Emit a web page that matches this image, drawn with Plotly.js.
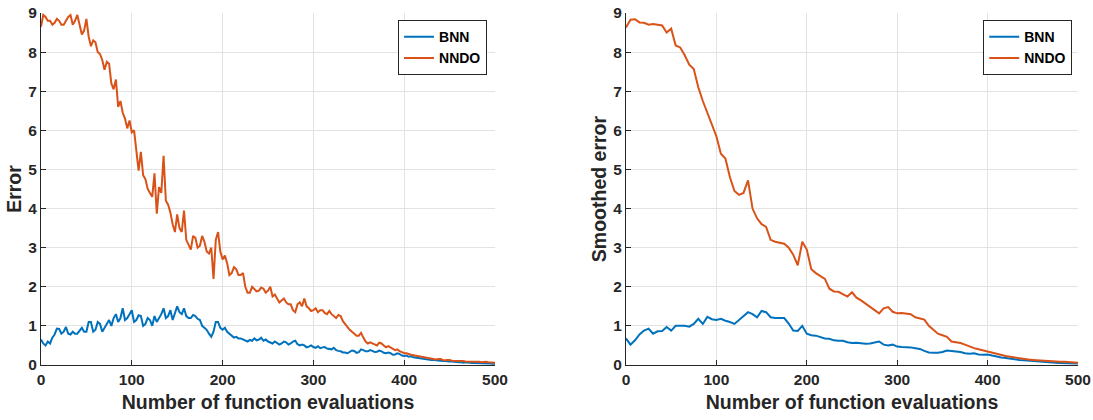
<!DOCTYPE html>
<html>
<head>
<meta charset="utf-8">
<script src="https://cdn.plot.ly/plotly-3.0.1.min.js"></script>
<style>html,body{margin:0;padding:0;background:#fff;}#chart{width:1093px;height:420px;}</style>
</head>
<body>
<div id="chart"></div>
<script>
// Number of function evaluations: raw error sampled every 2.5, smoothed every 5
const evalsRaw = [];
for (let i = 0; i <= 200; i++) evalsRaw.push(i * 2.5);
const evals = [];
for (let i = 0; i <= 500; i += 5) evals.push(i);

// Left panel: raw error
const errorBNN = [
0.65,0.55,0.5,0.6,0.55,0.7,0.78,0.93,0.92,0.8,0.85,0.97,0.8,0.78,0.85,0.8,0.8,0.88,0.95,0.85,
0.85,1.1,1.1,0.85,0.9,1.1,1.05,0.85,0.95,1.05,1.15,1.0,1.2,1.3,1.1,1.2,1.45,1.15,1.2,1.3,
1.4,1.1,1.15,1.27,1.25,1.0,1.05,1.2,1.15,1.0,1.25,1.1,1.2,1.3,1.45,1.2,1.25,1.4,1.15,1.3,
1.5,1.35,1.3,1.45,1.25,1.2,1.2,1.28,1.25,1.18,1.15,1.0,0.95,0.9,0.8,0.72,0.85,1.1,1.1,0.95,
0.9,0.95,0.85,0.8,0.75,0.7,0.72,0.68,0.68,0.65,0.62,0.6,0.64,0.62,0.68,0.63,0.65,0.7,0.62,0.65,
0.6,0.57,0.55,0.6,0.57,0.52,0.55,0.6,0.58,0.52,0.55,0.6,0.62,0.53,0.5,0.52,0.5,0.45,0.47,0.5,
0.46,0.44,0.48,0.43,0.45,0.46,0.42,0.4,0.4,0.44,0.38,0.36,0.35,0.32,0.32,0.3,0.33,0.37,0.36,0.31,
0.33,0.4,0.38,0.35,0.35,0.38,0.36,0.33,0.34,0.37,0.35,0.31,0.3,0.32,0.3,0.26,0.27,0.3,0.28,0.24,
0.23,0.24,0.21,0.22,0.2,0.19,0.18,0.18,0.17,0.16,0.15,0.14,0.13,0.13,0.12,0.12,0.11,0.1,0.1,0.09,
0.09,0.09,0.08,0.08,0.07,0.07,0.06,0.07,0.06,0.05,0.05,0.05,0.05,0.04,0.04,0.05,0.04,0.04,0.04,0.03,
0.03];
const errorNNDO = [
8.65,8.95,8.9,8.8,8.8,8.7,8.75,8.85,8.8,8.7,8.7,8.8,8.9,8.95,8.7,8.8,8.95,8.7,8.45,8.55,
8.85,8.4,8.15,8.3,8.25,8.0,7.95,7.8,7.55,7.75,7.7,7.2,7.05,7.3,6.6,6.75,6.45,6.3,6.05,6.25,
5.95,6.0,5.45,4.97,5.45,4.85,4.75,4.5,4.4,4.3,4.9,3.87,4.55,4.4,5.35,4.2,4.1,3.9,3.6,3.4,
3.85,3.5,3.4,3.95,3.2,3.05,2.95,3.3,3.25,3.0,3.05,3.3,3.15,2.9,2.85,3.0,2.2,3.2,3.4,2.9,
2.7,2.8,2.6,2.3,2.35,2.5,2.45,2.3,2.3,2.35,2.0,1.85,1.85,2.0,1.95,1.88,1.9,1.98,1.95,1.85,
1.9,2.0,1.75,1.8,1.7,1.6,1.65,1.7,1.6,1.55,1.55,1.4,1.35,1.55,1.6,1.5,1.7,1.5,1.45,1.38,
1.4,1.45,1.35,1.4,1.4,1.33,1.3,1.38,1.3,1.25,1.2,1.28,1.25,1.12,1.05,0.95,0.9,0.85,0.8,0.75,
0.75,0.82,0.7,0.6,0.55,0.58,0.55,0.52,0.5,0.57,0.55,0.5,0.45,0.48,0.45,0.4,0.38,0.4,0.35,0.33,
0.3,0.3,0.27,0.26,0.25,0.24,0.22,0.22,0.2,0.19,0.18,0.17,0.16,0.16,0.14,0.15,0.15,0.13,0.12,0.13,
0.13,0.11,0.11,0.11,0.1,0.1,0.1,0.09,0.09,0.08,0.08,0.09,0.09,0.08,0.07,0.08,0.08,0.07,0.07,0.06,
0.06];

// Right panel: smoothed error
const smoothBNN = [0.68,0.52,0.63,0.78,0.88,0.93,0.8,0.86,0.87,0.97,0.88,1.0,1.0,1.0,0.98,1.05,1.18,1.05,1.23,1.17,
1.15,1.18,1.13,1.1,1.05,1.15,1.25,1.35,1.3,1.22,1.38,1.35,1.22,1.2,1.2,1.2,1.06,0.88,0.87,1.0,
0.8,0.76,0.75,0.72,0.68,0.67,0.63,0.62,0.62,0.58,0.56,0.57,0.55,0.54,0.55,0.57,0.6,0.52,0.5,0.52,
0.47,0.46,0.46,0.45,0.43,0.41,0.36,0.32,0.31,0.31,0.33,0.37,0.36,0.35,0.33,0.3,0.29,0.3,0.27,0.26,
0.27,0.24,0.21,0.19,0.18,0.16,0.15,0.13,0.12,0.11,0.1,0.08,0.07,0.065,0.06,0.055,0.05,0.045,0.04,0.038,0.035];
const smoothNNDO = [8.63,8.83,8.84,8.76,8.75,8.7,8.72,8.7,8.68,8.5,8.6,8.17,8.12,7.92,7.68,7.57,7.1,6.75,6.45,6.12,
5.85,5.4,5.28,4.8,4.45,4.35,4.4,4.72,4.0,3.75,3.6,3.53,3.2,3.15,3.12,3.1,3.0,2.82,2.55,3.15,
2.95,2.45,2.35,2.28,2.2,1.95,1.88,1.87,1.82,1.75,1.86,1.72,1.65,1.57,1.48,1.4,1.32,1.45,1.48,1.36,
1.32,1.33,1.32,1.3,1.22,1.18,1.16,1.0,0.9,0.8,0.76,0.72,0.6,0.58,0.56,0.52,0.47,0.43,0.4,0.37,
0.33,0.31,0.28,0.25,0.23,0.21,0.19,0.17,0.15,0.14,0.13,0.12,0.11,0.1,0.095,0.09,0.085,0.08,0.07,0.065,0.06];

const xTicks = [0,100,200,300,400,500];
const yTicks = [0,1,2,3,4,5,6,7,8,9];
const seriesNames = ['BNN','NNDO'];
const colors = ['#0072BD','#D95319'];

const FONT = 'Liberation Sans, Arial, Helvetica, sans-serif';
const TXT = '#262626';

function line(x, y, name, color, xa, ya, leg) {
  return {x: x, y: y, type: 'scatter', mode: 'lines', name: name,
    line: {color: color, width: 2}, xaxis: xa, yaxis: ya, legend: leg};
}

const data = [
  line(evalsRaw, errorBNN, seriesNames[0], colors[0], 'x', 'y', 'legend'),
  line(evalsRaw, errorNNDO, seriesNames[1], colors[1], 'x', 'y', 'legend'),
  line(evals, smoothBNN, seriesNames[0], colors[0], 'x2', 'y2', 'legend2'),
  line(evals, smoothNNDO, seriesNames[1], colors[1], 'x2', 'y2', 'legend2')
];

function xax(domain, anchor) {
  return {domain: domain, anchor: anchor, range: [0, 500], tickvals: xTicks, ticktext: xTicks.map(String),
    showgrid: true, gridcolor: '#e3e3e3', gridwidth: 1, zeroline: false,
    showline: true, linecolor: TXT, linewidth: 1, mirror: false,
    ticks: 'inside', ticklen: 5, tickcolor: TXT, tickwidth: 1,
    tickfont: {family: FONT, size: 15.5, color: TXT, weight: 'bold'},
    title: {text: 'Number of function evaluations', font: {family: FONT, size: 19.5, color: TXT, weight: 'bold'}, standoff: 8}};
}
function yax(title, anchor) {
  return {domain: [0.131, 0.969], anchor: anchor, range: [0, 9], tickvals: yTicks, ticktext: yTicks.map(String),
    showgrid: true, gridcolor: '#e3e3e3', gridwidth: 1, zeroline: false,
    showline: true, linecolor: TXT, linewidth: 1, mirror: false,
    ticks: 'inside', ticklen: 5, tickcolor: TXT, tickwidth: 1,
    tickfont: {family: FONT, size: 15.5, color: TXT, weight: 'bold'},
    title: {text: title, font: {family: FONT, size: 19.5, color: TXT, weight: 'bold'}, standoff: 1}};
}
function leg(xr) {
  return {x: xr, y: 0.952, xanchor: 'right', yanchor: 'top', bgcolor: '#ffffff',
    bordercolor: TXT, borderwidth: 1, font: {family: FONT, size: 14, color: '#000', weight: 'bold'},
    tracegroupgap: 0, itemwidth: 30};
}

const layout = {
  width: 1093, height: 420,
  margin: {l: 0, r: 0, t: 0, b: 0},
  paper_bgcolor: '#ffffff', plot_bgcolor: '#ffffff',
  showlegend: true,
  xaxis: xax([0.0375, 0.4529], 'y'),
  yaxis: yax('Error', 'x'),
  xaxis2: xax([0.5727, 0.9863], 'y2'),
  yaxis2: yax('Smoothed error', 'x2'),
  legend: leg(0.4456),
  legend2: leg(0.981)
};

Plotly.newPlot('chart', data, layout, {staticPlot: true, displayModeBar: false});
</script>
</body>
</html>
